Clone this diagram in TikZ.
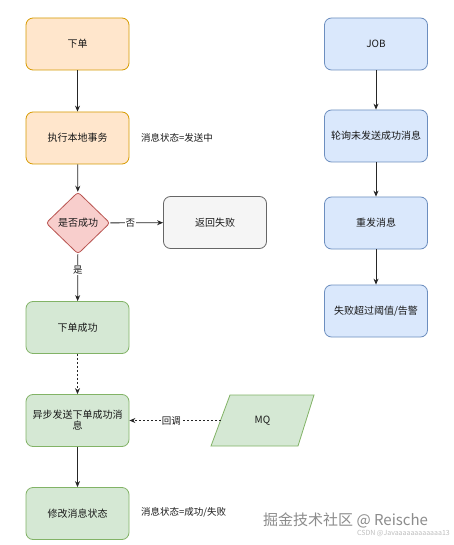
\documentclass[tikz,border=0pt]{standalone}
\usepackage{fontspec}
\setmainfont{Noto Sans CJK SC}
\usetikzlibrary{arrows.meta,shapes.geometric}
\definecolor{ofill}{HTML}{FFE6CC}\definecolor{odraw}{HTML}{D79B00}
\definecolor{rfill}{HTML}{F8CECC}\definecolor{rdraw}{HTML}{B85450}
\definecolor{gfill}{HTML}{F5F5F5}\definecolor{gdraw}{HTML}{666666}
\definecolor{grfill}{HTML}{D5E8D4}\definecolor{grdraw}{HTML}{82B366}
\definecolor{bfill}{HTML}{DAE8FC}\definecolor{bdraw}{HTML}{6C8EBF}
\definecolor{txt}{HTML}{1A1A1A}
\begin{document}
\begin{tikzpicture}[x=1pt,y=-1pt,
  font=\fontsize{10}{12}\selectfont, text=txt,
  box/.style={draw, rounded corners=7pt, minimum width=103pt, minimum height=52pt, line width=0.8pt, inner sep=1pt, align=center},
  obox/.style={box, fill=ofill, draw=odraw},
  gbox/.style={box, fill=grfill, draw=grdraw},
  bbox/.style={box, fill=bfill, draw=bdraw},
  greybox/.style={box, fill=gfill, draw=gdraw},
  conn/.style={draw=black!85, line width=0.8pt, -{Stealth[length=6pt,width=5pt]}},
  dconn/.style={conn, dash pattern=on 2pt off 2pt},
  lab/.style={fill=white, inner sep=1pt, font=\fontsize{9.5}{11}\selectfont},
  side/.style={anchor=west, inner sep=0pt, font=\fontsize{9.5}{11}\selectfont}]
\useasboundingbox[fill=white] (0,0) rectangle (453,545);
% left column
\node[obox] (order) at (77.5,44) {下单};
\node[obox] (exec) at (77.5,138) {执行本地事务};
\node[draw=rdraw, fill=rfill, line width=0.8pt, shape=diamond, minimum width=64pt, minimum height=62pt, inner sep=0pt, rounded corners=3pt] (dec) at (78,223) {是否成功};
\node[greybox] (fail) at (215,222.5) {返回失败};
\node[gbox] (ok) at (77.5,327.5) {下单成功};
\node[gbox] (async) at (77.5,420.5) {异步发送下单成功消\\[-1pt]息};
\node[gbox] (mod) at (77.5,513.5) {修改消息状态};
% MQ parallelogram
\draw[fill=grfill, draw=grdraw, line width=0.8pt] (230,395) -- (314,395) -- (298,446) -- (211,446) -- cycle;
\node (mq) at (262.5,420.5) {MQ};
\coordinate (mqin) at (220.5,420.5);
% side texts
\node[side] (st1) at (141,138) {消息状态=发送中};
\node[side] (st2) at (141,512) {消息状态=成功/失败};
% right column
\node[bbox] (job) at (376,44) {JOB};
\node[bbox] (poll) at (376,136) {轮询未发送成功消息};
\node[bbox] (resend) at (376,223) {重发消息};
\node[bbox] (alarm) at (376,311) {失败超过阈值/告警};
% connectors
\draw[conn] (order) -- (exec);
\draw[conn] (exec) -- (dec);
\draw[conn] (dec) -- node[lab, pos=0.38] {否} (fail);
\draw[conn] (dec) -- node[lab, pos=0.33] {是} (ok);
\draw[dconn] (ok) -- (async);
\draw[dconn] (mqin) -- node[lab, pos=0.54] {回调} (async.east);
\draw[conn] (async) -- (mod);
\draw[conn] (job) -- (poll);
\draw[conn] (poll) -- (resend);
\draw[conn] (resend) -- (alarm);
% watermark
\node[anchor=west, inner sep=0pt, text=black!45, font=\fontsize{15}{17}\selectfont] (wm1) at (263,520) {掘金技术社区 @ Reische};
\node[anchor=east, inner sep=0pt, text=black!25, font=\fontsize{7}{8}\selectfont] (wm2) at (450,533.5) {CSDN @Javaaaaaaaaaaaa13};
\end{tikzpicture}
\end{document}
